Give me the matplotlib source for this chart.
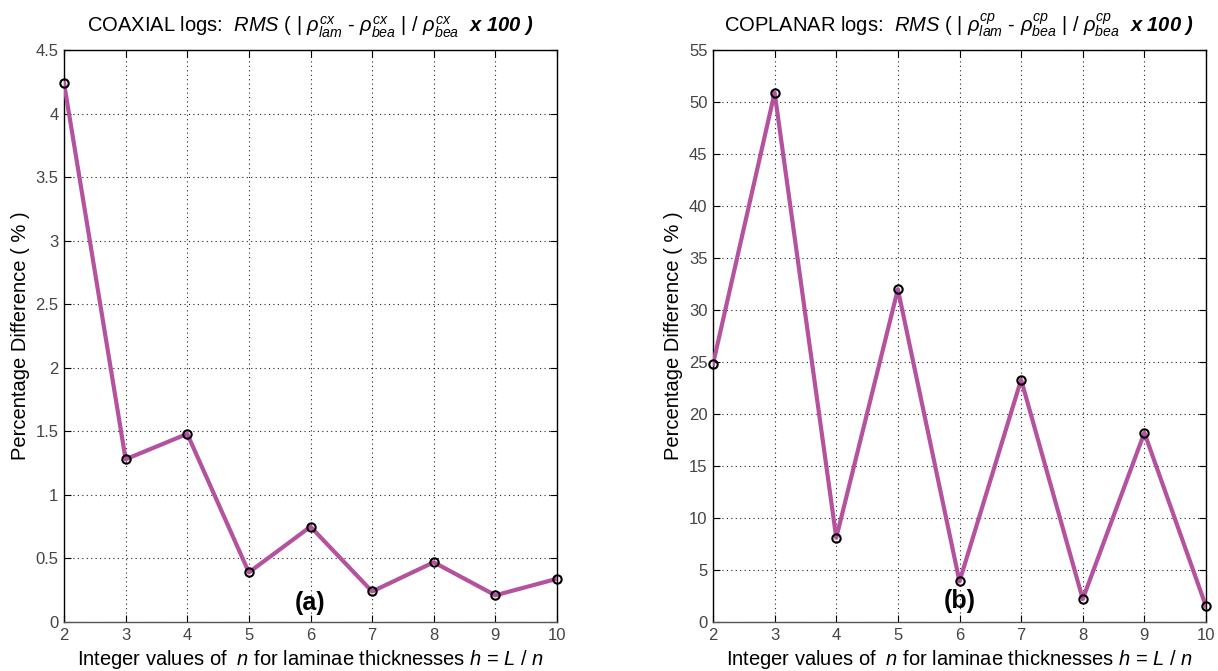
import numpy as np
from matplotlib import pyplot as plt

plt.rcParams['font.family'] = ['Liberation Sans', 'DejaVu Sans']
plt.rcParams['mathtext.fontset'] = 'custom'
plt.rcParams['mathtext.rm'] = 'Liberation Sans'
plt.rcParams['mathtext.it'] = 'Liberation Sans:italic'
plt.rcParams['mathtext.bf'] = 'Liberation Sans:italic:bold'

# data
n_values = [2, 3, 4, 5, 6, 7, 8, 9, 10]
coaxial_diff = [4.24, 1.28, 1.48, 0.39, 0.75, 0.24, 0.47, 0.21, 0.34]
coplanar_diff = [24.8, 50.9, 8.1, 32.0, 3.9, 23.3, 2.2, 18.2, 1.5]

coax_yticks = [0, 0.5, 1, 1.5, 2, 2.5, 3, 3.5, 4, 4.5]
copl_yticks = [0, 5, 10, 15, 20, 25, 30, 35, 40, 45, 50, 55]

line_col = '#B4529E'

W, H = 1218, 671
fig = plt.figure(figsize=(W / 100, H / 100), dpi=100)
fig.set_facecolor('white')

# axes boxes in pixels (left, top, right, bottom)
boxes = [(64, 50, 557, 622), (713, 50, 1206, 622)]


def make_axes(box):
    l, t, r, b = box
    return fig.add_axes([l / W, 1 - b / H, (r - l) / W, (b - t) / H])


def title_tex(name, sup):
    return (name + ' logs:  '
            + r'$\mathit{RMS}$ ( | '
            + r'$\mathit{\rho^{%s}_{lam}}$ - $\mathit{\rho^{%s}_{bea}}$ | / '
              % (sup, sup)
            + r'$\mathit{\rho^{%s}_{bea}}$  ' % sup
            + r'$\mathbf{x\ 100\ )}$')


xlab = (r'Integer values of  $\mathit{n}$ for laminae thicknesses '
        r'$\mathit{h}$ = $\mathit{L}$ / $\mathit{n}$')

panels = [
    (coaxial_diff, coax_yticks, 'COAXIAL', 'cx', '(a)', 0.15),
    (coplanar_diff, copl_yticks, 'COPLANAR', 'cp', '(b)', 2.0),
]

for box, (vals, yt, name, sup, tag, tag_y) in zip(boxes, panels):
    ax = make_axes(box)
    ax.plot(n_values, vals, '-', color=line_col, lw=3.0, zorder=3)
    ax.plot(n_values, vals, 'o', mfc='none', mec='black', mew=1.5,
            ms=6, zorder=4, clip_on=False)
    ax.set_xlim(2, 10)
    ax.set_ylim(yt[0], yt[-1])
    ax.set_xticks(n_values)
    ax.set_yticks(yt)
    ax.set_yticklabels([('%g' % v) for v in yt])
    ax.grid(True, ls=(0, (1, 3)), color='#222222', lw=0.8)
    ax.tick_params(direction='in', length=5, labelsize=12,
                   labelcolor='#444444', top=True, right=True, pad=4)
    for s in ax.spines.values():
        s.set_color('black')
        s.set_linewidth(1.0)
    ax.spines['bottom'].set_color('#555555')
    ax.set_xlabel(xlab, fontsize=14.5, labelpad=4)
    ax.set_ylabel('Percentage Difference ( % )', fontsize=14.5, labelpad=4)
    ax.set_title(title_tex(name, sup), fontsize=14.5, pad=13)
    ax.text(6, tag_y, tag, fontsize=18, fontweight='bold',
            ha='center', va='center')

fig.savefig('out.png', dpi=100, facecolor='white')
